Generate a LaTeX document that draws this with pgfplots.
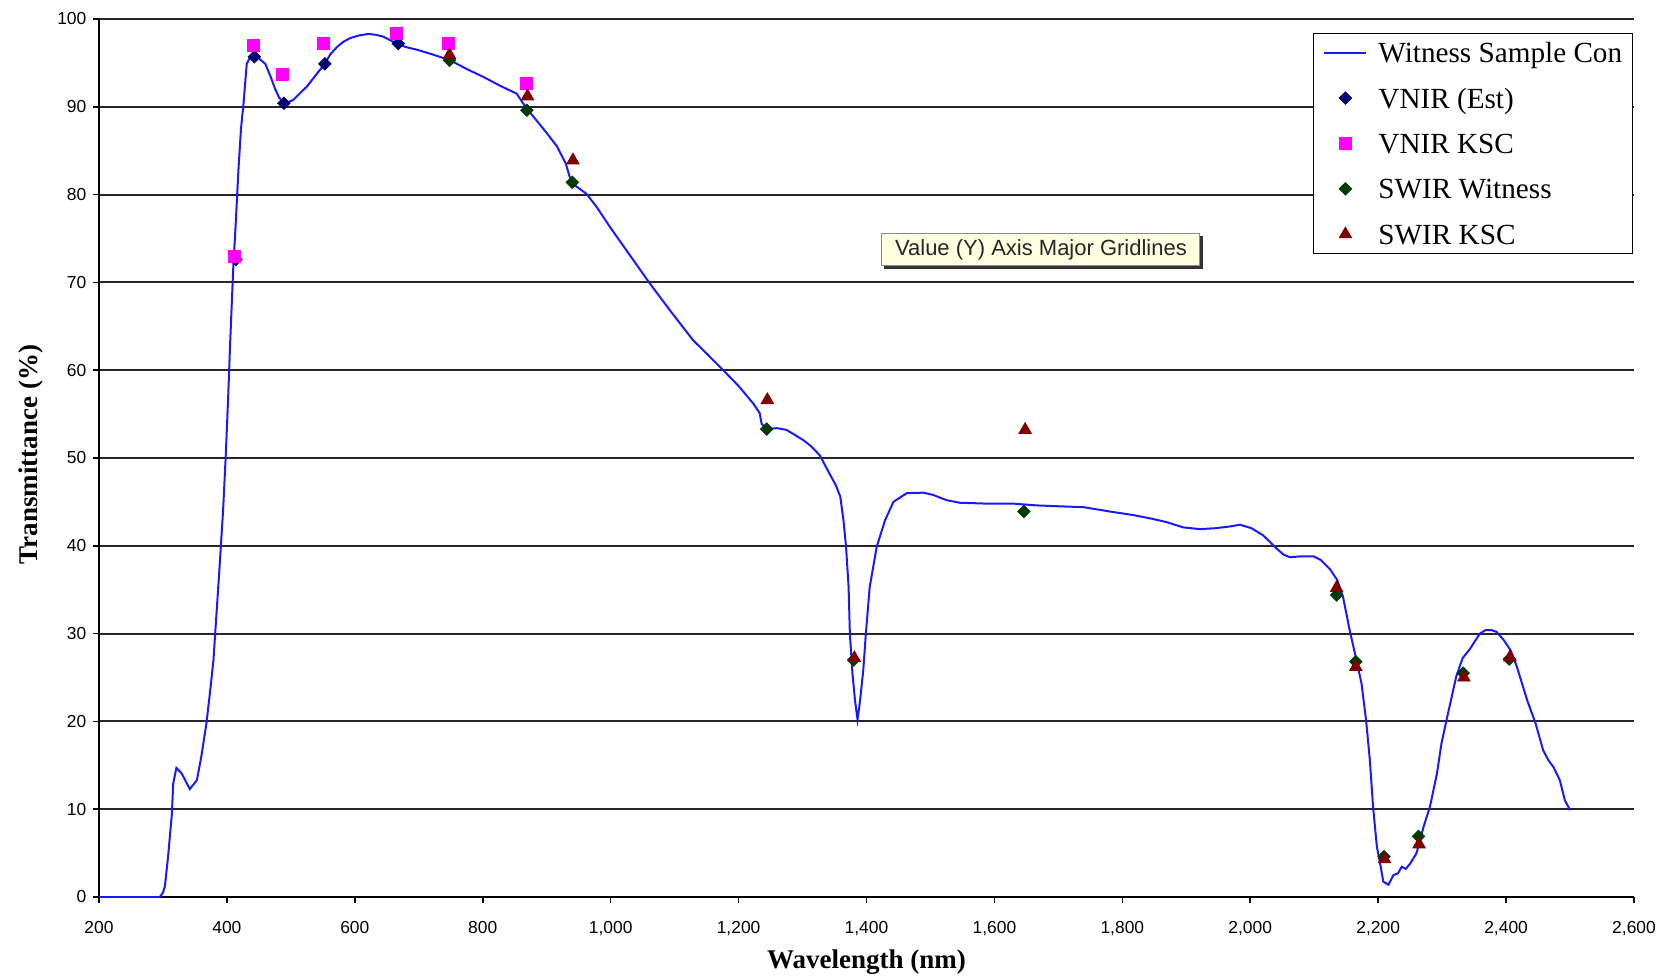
\documentclass[border=0pt]{standalone}
\usepackage{fontspec}
\setmainfont{Liberation Serif}
\newfontfamily\arialfont{Liberation Sans}
\usepackage{pgfplots}
\pgfplotsset{compat=1.18}
\usetikzlibrary{shadows}
\definecolor{curveblue}{RGB}{25,25,255}
\definecolor{navyE}{RGB}{0,0,110}
\definecolor{magentaK}{RGB}{255,0,255}
\definecolor{dkgreen}{RGB}{0,60,0}
\definecolor{dkred}{RGB}{128,0,0}
\definecolor{tipyellow}{RGB}{255,255,225}

\pgfplotstableread{
x y
200 0
295 0
300 0.5
303 1.2
308 4.6
314 9.5
316 12.9
321 14.7
329 14.1
342 12.3
353 13.3
360 16.0
368 19.8
374 23.6
379 27.0
381 29.3
388 37.0
394 44.0
398 50.0
402 57.0
405 63.0
410 71.8
414 77.0
418 82.8
422 87.5
426 90.4
431 94.9
436 95.6
441 95.7
450 95.5
460 94.9
468 93.5
475 92.1
482 91.0
488 90.6
495 90.5
504 90.8
515 91.6
525 92.3
540 93.7
551 94.7
562 96.0
572 96.8
582 97.4
592 97.8
605 98.1
621 98.3
633 98.2
644 98.0
655 97.6
665 97.2
680 96.8
697 96.5
720 96.0
749 95.3
775 94.3
801 93.4
827 92.4
853 91.5
863 90.4
871 89.6
879 88.9
898 87.2
916 85.5
930 83.5
936 82.0
945 81.0
962 80.1
978 78.6
999 76.3
1030 73.1
1061 69.9
1095 66.6
1129 63.4
1150 61.9
1176 60.0
1200 58.2
1223 56.2
1233 55.1
1236 53.9
1244 53.3
1260 53.4
1275 53.2
1301 52.05
1314 51.3
1327 50.3
1343 48.1
1352 46.9
1359 45.6
1364 42.9
1368 39.9
1372 35.3
1374 30.0
1378 25.5
1382 22.4
1386 20.2
1390 22.4
1395 25.9
1399 30.0
1405 35.3
1416 39.9
1429 42.9
1442 45.0
1463 46.0
1489 46.05
1504 45.8
1525 45.2
1546 44.9
1590 44.8
1630 44.8
1666 44.6
1700 44.5
1739 44.4
1781 43.9
1817 43.5
1845 43.1
1869 42.7
1895 42.1
1921 41.9
1945 42.0
1968 42.2
1984 42.4
2002 42.0
2020 41.2
2030 40.5
2041 39.7
2052 39.0
2062 38.7
2080 38.8
2099 38.8
2110 38.4
2125 37.3
2136 36.1
2145 34.2
2156 30.2
2166 27.0
2174 24.3
2181 20.2
2187 15.6
2192 10.3
2198 5.7
2204 3.45
2208 1.75
2216 1.4
2224 2.5
2231 2.7
2237 3.45
2243 3.2
2250 3.8
2260 5.0
2271 8.0
2281 10.3
2292 14.1
2299 17.5
2307 20.2
2315 22.8
2322 25.1
2332 27.2
2344 28.3
2359 30.0
2368 30.4
2377 30.4
2385 30.2
2396 29.3
2407 28.1
2417 26.2
2433 22.4
2446 19.8
2458 16.7
2466 15.6
2474 14.8
2484 13.3
2492 11.0
2500 9.9
}\curvetable

\pgfplotstableread{
x y
414 72.6
443 95.7
489 90.4
553 94.9
668 97.2
}\vnirest

\pgfplotstableread{
x y
412 73.0
442 97.0
487 93.7
551 97.2
665 98.4
747 97.2
869 92.7
}\vnirksc

\pgfplotstableread{
x y
748 95.3
869 89.6
940 81.4
1244 53.3
1380 27.0
1646 43.9
2135 34.4
2165 26.8
2209 4.6
2263 6.9
2333 25.5
2405 27.1
}\swirwit

\pgfplotstableread{
x y
748 95.9
870 91.2
941 83.9
1245 56.6
1381 27.2
1648 53.2
2135 35.2
2165 26.2
2210 4.3
2264 6.0
2334 25.0
2406 27.3
}\swirksc

\begin{document}
\begin{tikzpicture}
\path[use as bounding box] (-49.5pt,-41.5pt) rectangle (786pt,448.5pt);
\begin{axis}[
  at={(0pt,0pt)}, anchor=south west,
  scale only axis, width=767.5pt, height=439pt,
  xmin=200, xmax=2600, ymin=0, ymax=100,
  axis lines*=left,
  axis line style={black, line width=1pt},
  xtick={200,400,...,2600},
  ytick={0,10,...,100},
  tick align=outside,
  major tick length=2.8pt,
  tick style={black, line width=0.8pt},
  ymajorgrids,
  major grid style={black!85, line width=1pt},
  /pgf/number format/assume math mode=true,
  /pgf/number format/1000 sep={,},
  tick label style={font=\arialfont\fontsize{8.7}{10}\selectfont, text=black},
  xticklabel style={yshift=-5.9pt},
  xlabel={Wavelength (nm)}, ylabel={Transmittance (\%)},
  label style={font=\bfseries\fontsize{13.5}{16}\selectfont},
  xlabel style={at={(axis description cs:0.5,-0.0743)}, anchor=center},
  ylabel style={at={(axis description cs:-0.0440,0.504)}, anchor=center},
  legend image code/.code={\draw[mark repeat=2,mark phase=2,#1] plot coordinates {(0pt,0pt) (10.5pt,0pt) (21pt,0pt)};},
  legend style={at={(rel axis cs:0.7909,0.984)}, anchor=north west, draw=black, fill=white,
    inner xsep=5pt, inner ysep=4.6pt, row sep=12.7pt,
    font=\fontsize{14.6}{17}\selectfont,
    nodes={inner sep=0pt, text height=10pt, text depth=0pt},
    /tikz/every odd column/.append style={column sep=5.5pt}},
  legend cell align=left,
]
\addplot[curveblue, line width=1pt, no marks] table {\curvetable};
\addlegendentry{Witness Sample Con}
\addplot[only marks, mark=square*, mark size=2.2pt, mark options={rotate=45, fill=navyE, draw=navyE, line width=0.4pt}] table {\vnirest};
\addlegendentry{VNIR (Est)}
\addplot[only marks, mark=square*, mark size=3pt, mark options={fill=magentaK, draw=magentaK, line width=0.4pt}] table {\vnirksc};
\addlegendentry{VNIR KSC}
\addplot[only marks, mark=square*, mark size=2.2pt, mark options={rotate=45, fill=dkgreen, draw=dkgreen, line width=0.4pt}] table {\swirwit};
\addlegendentry{SWIR Witness}
\addplot[only marks, mark=triangle*, mark size=3.6pt, mark options={fill=dkred, draw=dkred, line width=0.4pt}] table {\swirksc};
\addlegendentry{SWIR KSC}
\node[draw=black!45, line width=0.5pt, fill=tipyellow, inner sep=0pt, minimum width=159pt, minimum height=16pt,
  copy shadow={shadow xshift=1.1pt, shadow yshift=-1.1pt, fill=black!80, draw=black!80},
  font=\arialfont\fontsize{11}{13}\selectfont, text=black!85] at (axis cs:1672.8,73.7) {Value (Y) Axis Major Gridlines};
\end{axis}
\end{tikzpicture}
\end{document}
